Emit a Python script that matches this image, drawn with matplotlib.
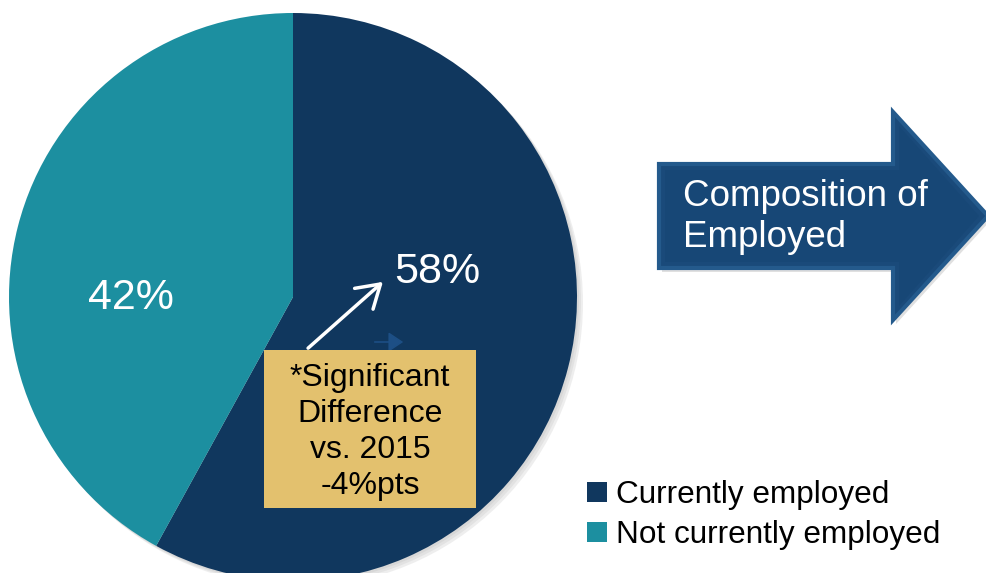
import matplotlib.pyplot as plt
from matplotlib.patches import Polygon, Circle, FancyArrowPatch
import numpy as np

plt.rcParams['font.family'] = ['Liberation Sans', 'DejaVu Sans']

# data
labels = ['Currently employed', 'Not currently employed']
values = [58, 42]
colors = ['#10375e', '#1c8fa0']
pct_labels = ['58%', '42%']
note_lines = ['*Significant', 'Difference', 'vs. 2015', '-4%pts']
arrow_text = 'Composition of\nEmployed'

W, H = 986, 573
fig = plt.figure(figsize=(W / 100, H / 100), dpi=100)
ax = fig.add_axes([0, 0, 1, 1])

# pixel (top-left origin) -> data
def py(y):
    return H - y

cx, cy, r = 293, py(297), 284

# soft shadow behind the pie
for k, a in enumerate([0.10, 0.10, 0.12]):
    ax.add_patch(Circle((cx + 2 + k * 2, cy - 2 - k * 2), r, color='#7a7a7a', alpha=a, lw=0, zorder=0))

wedges, _ = ax.pie(values, colors=colors, startangle=90, counterclock=False,
                   center=(cx, cy), radius=r, frame=True,
                   wedgeprops=dict(linewidth=0))
ax.set_xlim(0, W)
ax.set_ylim(0, H)
ax.set_aspect('equal')
ax.axis('off')

ax.text(131, py(298), pct_labels[1], color='white', fontsize=31, ha='center', va='center')
ax.text(437, py(272), pct_labels[0], color='white', fontsize=31, ha='center', va='center')

# note box
bx0, by0, bx1, by1 = 264, 350, 476, 508
ax.add_patch(Polygon([(bx0, py(by0)), (bx1, py(by0)), (bx1, py(by1)), (bx0, py(by1))],
                     closed=True, facecolor='#e3c16e', edgecolor='none', zorder=4))
ax.text((bx0 + bx1) / 2, py(432), '\n'.join(note_lines), fontsize=23, color='black',
        ha='center', va='center', linespacing=1.25, zorder=5)

# white pointer arrow
ax.add_patch(FancyArrowPatch((306, py(350)), (385, py(280)), arrowstyle='->,head_length=8,head_width=5',
                             color='white', lw=2.5, mutation_scale=2, zorder=6))
# faint ghost arrow
ax.add_patch(FancyArrowPatch((372, py(342)), (406, py(342)), arrowstyle='-|>,head_length=6,head_width=4',
                             color='#1d4f85', lw=1.2, mutation_scale=1.5, zorder=3))

# big block arrow
pts = [(659, 164), (893, 164), (893, 112), (988, 216), (893, 320), (893, 268), (659, 268)]
shadow = [(x + 3, py(y + 4)) for x, y in pts]
ax.add_patch(Polygon(shadow, closed=True, facecolor='#9a9a9a', alpha=0.3, edgecolor='none', zorder=1))
ax.add_patch(Polygon([(x, py(y)) for x, y in pts], closed=True, facecolor='#1a4a7a',
                     edgecolor='#245a8c', lw=3, zorder=2, joinstyle='miter'))
inner = [(665, 170), (899, 170), (899, 126), (979, 216), (899, 306), (899, 262), (665, 262)]
ax.add_patch(Polygon([(x, py(y)) for x, y in inner], closed=True, facecolor='#174776',
                     edgecolor='none', zorder=2))
ax.text(683, py(217), arrow_text, color='white', fontsize=26.5, ha='left', va='center',
        linespacing=1.22, zorder=3)

# legend
leg = ax.legend(wedges, labels, loc='upper left', bbox_to_anchor=(587 / W, 1 - 480 / H),
                frameon=False, fontsize=22.7, handlelength=0.62, handleheight=0.62,
                handletextpad=0.3, labelspacing=0.32, borderaxespad=0, borderpad=0)

fig.savefig('out.png', dpi=100, facecolor='white')
